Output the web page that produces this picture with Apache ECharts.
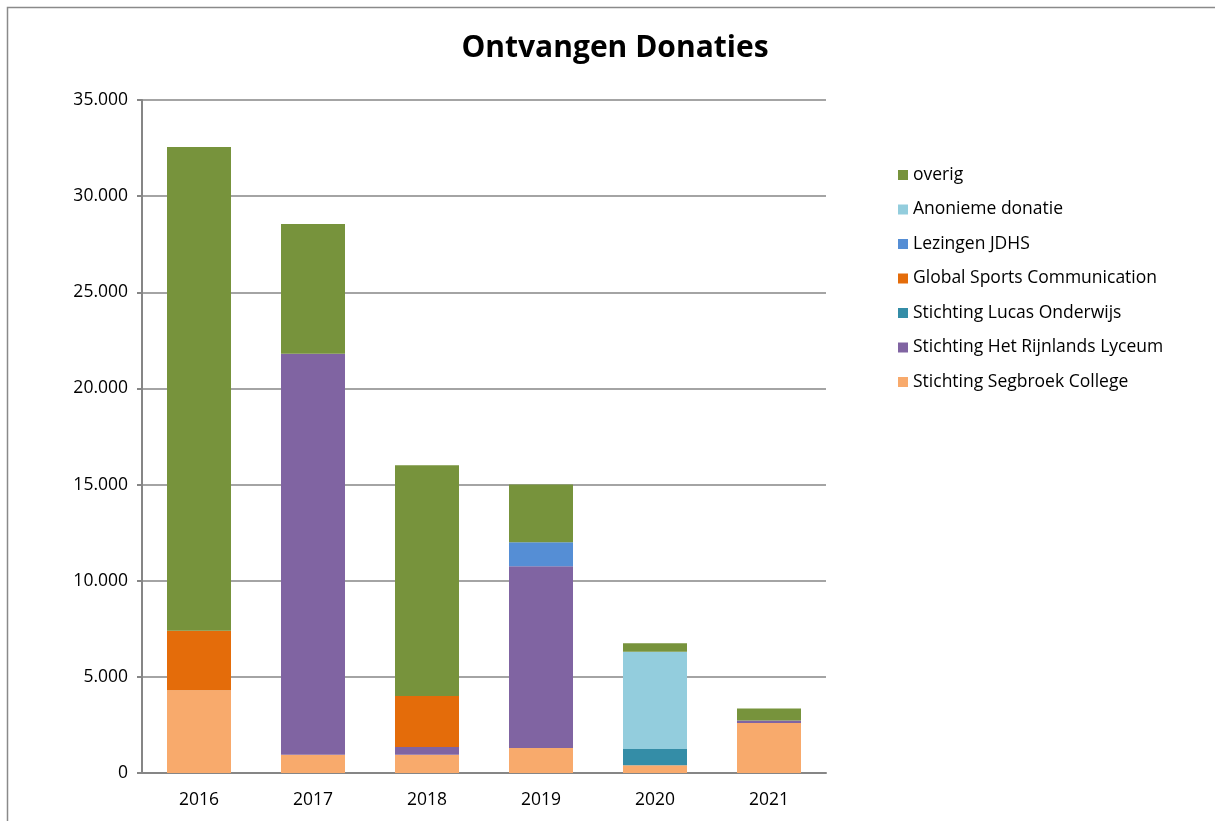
<!DOCTYPE html>
<html>
<head>
<meta charset="utf-8">
<script src="https://cdn.jsdelivr.net/npm/echarts@6/dist/echarts.min.js"></script>
<style>
  html, body { margin: 0; padding: 0; background: #fff; }
  #chart { width: 1215px; height: 821px; }
</style>
</head>
<body>
<div id="chart"></div>
<script>
//data
var years = ['2016', '2017', '2018', '2019', '2020', '2021'];
var segbroek = [4300, 950, 950, 1300, 400, 2600];
var rijnlands = [0, 20850, 400, 9450, 0, 130];
var lucas = [0, 0, 0, 0, 850, 0];
var globalSports = [3100, 0, 2650, 0, 0, 0];
var lezingen = [0, 0, 0, 1250, 0, 0];
var anoniem = [0, 0, 0, 0, 5050, 0];
var overig = [25150, 6750, 12000, 3000, 450, 620];
var yTicks = [0, 5000, 10000, 15000, 20000, 25000, 30000, 35000];

var FONT = 'Open Sans';
var chart = echarts.init(document.getElementById('chart'));

function fmt(v) {
  //dutch thousands separator
  return v === 0 ? '0' : String(v).replace(/\B(?=(\d{3})+(?!\d))/g, '.');
}

function serie(name, data, color) {
  return {
    name: name,
    type: 'bar',
    stack: 'total',
    data: data,
    barWidth: 64,
    itemStyle: { color: color },
    emphasis: { disabled: true }
  };
}

var series = [
  serie('Stichting Segbroek College', segbroek, '#F8AA6C'),
  serie('Stichting Het Rijnlands Lyceum', rijnlands, '#8064A2'),
  serie('Stichting Lucas Onderwijs', lucas, '#348DA7'),
  serie('Global Sports Communication', globalSports, '#E46C0A'),
  serie('Lezingen JDHS', lezingen, '#558ED5'),
  serie('Anonieme donatie', anoniem, '#93CDDD'),
  serie('overig', overig, '#77933C')
];

chart.setOption({
  animation: false,
  backgroundColor: '#fff',
  graphic: [{
    type: 'rect',
    shape: { x: 7.5, y: 7.5, width: 1240, height: 840 },
    style: { fill: 'none', stroke: '#8a8a8a', lineWidth: 1.5 },
    silent: true
  }],
  title: {
    text: 'Ontvangen Donaties',
    left: 610,
    top: 28,
    textAlign: 'center',
    textStyle: { fontFamily: FONT, fontSize: 30, fontWeight: 'bold', color: '#000' }
  },
  legend: {
    orient: 'vertical',
    left: 898,
    top: 165,
    padding: 0,
    itemWidth: 10,
    itemHeight: 10,
    itemGap: 14.5,
    icon: 'rect',
    data: ['overig', 'Anonieme donatie', 'Lezingen JDHS', 'Global Sports Communication',
      'Stichting Lucas Onderwijs', 'Stichting Het Rijnlands Lyceum', 'Stichting Segbroek College'],
    textStyle: { fontFamily: FONT, fontSize: 17.5, color: '#000', lineHeight: 20 }
  },
  grid: { left: 142, right: 389, top: 100, bottom: 48, containLabel: false },
  xAxis: {
    type: 'category',
    data: years,
    axisLine: { lineStyle: { color: '#868686', width: 2 } },
    axisTick: { show: false },
    axisLabel: { fontFamily: FONT, fontSize: 17.5, color: '#000', margin: 18 }
  },
  yAxis: {
    type: 'value',
    min: 0,
    max: yTicks[yTicks.length - 1],
    interval: yTicks[1] - yTicks[0],
    axisLine: { show: true, lineStyle: { color: '#868686', width: 2 } },
    axisTick: { show: true, length: 5, lineStyle: { color: '#868686', width: 2 } },
    splitLine: { lineStyle: { color: '#868686', width: 1.5 } },
    axisLabel: { fontFamily: FONT, fontSize: 17.5, color: '#000', margin: 14, formatter: fmt }
  },
  series: series
});
</script>
</body>
</html>
